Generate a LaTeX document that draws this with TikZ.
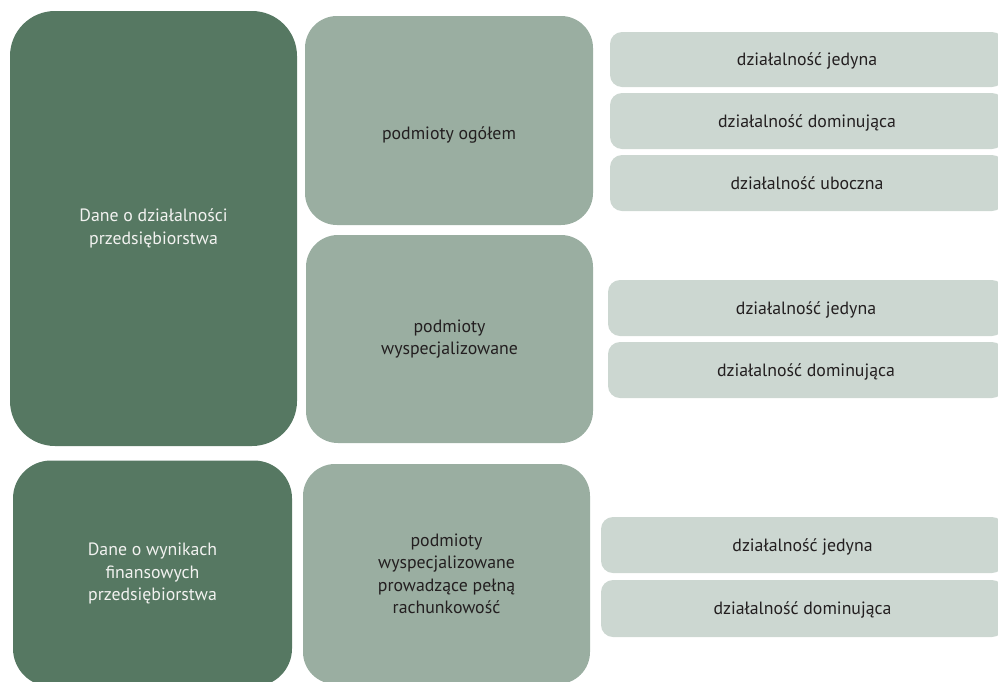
\documentclass[tikz,border=0pt]{standalone}
\usepackage{fontspec}
\setmainfont{PT Sans}
\definecolor{darkg}{RGB}{86,120,98}
\definecolor{midg}{RGB}{154,174,161}
\definecolor{lightg}{RGB}{204,215,209}
\definecolor{txtdark}{RGB}{35,31,32}
\definecolor{txtlight}{RGB}{242,242,240}
\tikzset{
  box/.style={draw=none, rectangle, align=center, inner sep=0pt,
    font=\fontsize{17.8}{22.5}\selectfont},
  topbox/.style={box, fill=darkg, text=txtlight},
  subbox/.style={box, fill=midg, text=txtdark, rounded corners=32pt},
  actbox/.style={box, fill=lightg, text=txtdark, rounded corners=12pt, text depth=0pt},
}
\begin{document}
\begin{tikzpicture}[x=1pt,y=-1pt]
\useasboundingbox (0,0) rectangle (998,681);
% level 1
\node[topbox, rounded corners=45pt, minimum width=287pt, minimum height=435pt] (dz) at (153.5,228.5) {Dane o działalności\\przedsiębiorstwa};
\node[topbox, rounded corners=38pt, minimum width=279pt, minimum height=226pt] (fin) at (152.5,573.5) {Dane o wynikach\\finansowych\\przedsiębiorstwa};
% level 2
\node[subbox, minimum width=288pt, minimum height=209pt] (og) at (449,120.5) {\mbox{}\\[20pt]podmioty ogółem};
\node[subbox, minimum width=287pt, minimum height=208pt] (wy) at (449.5,339) {podmioty\\wyspecjalizowane};
\node[subbox, minimum width=287pt, minimum height=220pt] (pr) at (446.5,574) {podmioty\\wyspecjalizowane\\prowadzące pełną\\rachunkowość};
% level 3
\node[actbox, minimum width=394pt, minimum height=55pt] (og1) at (807,59.5) {działalność jedyna};
\node[actbox, minimum width=394pt, minimum height=56pt] (og2) at (807,121) {działalność dominująca};
\node[actbox, minimum width=394pt, minimum height=56pt] (og3) at (807,183) {działalność uboczna};
\node[actbox, minimum width=396pt, minimum height=56pt] (wy1) at (806,308) {działalność jedyna};
\node[actbox, minimum width=396pt, minimum height=56pt] (wy2) at (806,370) {działalność dominująca};
\node[actbox, minimum width=403pt, minimum height=56pt] (pr1) at (802.5,545) {działalność jedyna};
\node[actbox, minimum width=403pt, minimum height=57pt] (pr2) at (802.5,608.5) {działalność dominująca};
\end{tikzpicture}
\end{document}
